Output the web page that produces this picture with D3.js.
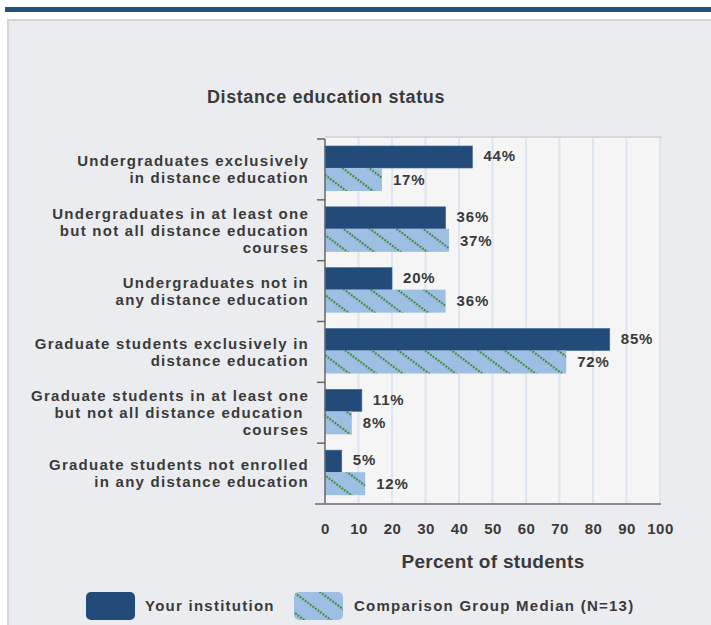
<!DOCTYPE html>
<html>
<head>
<meta charset="utf-8">
<script src="https://cdn.jsdelivr.net/npm/d3@7"></script>
<style>
  html, body { margin: 0; padding: 0; background: #fff; }
  svg { display: block; font-family: "Liberation Sans", Arial, sans-serif; }
</style>
</head>
<body>
<svg id="chart" width="711" height="625"></svg>
<script>
// ---- data ----
const categories = [
  ["Undergraduates exclusively", "in distance education"],
  ["Undergraduates in at least one", "but not all distance education", "courses"],
  ["Undergraduates not in", "any distance education"],
  ["Graduate students exclusively in", "distance education"],
  ["Graduate students in at least one", "but not all distance education ", "courses"],
  ["Graduate students not enrolled", "in any distance education"]
];
const institution = [44, 36, 20, 85, 11, 5];
const comparison = [17, 37, 36, 72, 8, 12];
const xTicks = [0, 10, 20, 30, 40, 50, 60, 70, 80, 90, 100];
const seriesNames = ["Your institution", "Comparison Group Median (N=13)"];

// ---- layout ----
const plot = { left: 325, right: 660, top: 139, bottom: 504 };
const DARK = "#234b79";
const LIGHT = "#9ebfe3";
const TEXT = "#3a3a3a";
const SPACING = "1.25px";

const svg = d3.select("#chart");

// pattern for comparison bars
const defs = svg.append("defs");
const pat = defs.append("pattern")
  .attr("id", "hatch")
  .attr("patternUnits", "userSpaceOnUse")
  .attr("width", 3.2).attr("height", 16)
  .attr("patternTransform", "rotate(37)");
pat.append("rect").attr("width", 3.2).attr("height", 16).attr("fill", LIGHT);
pat.append("rect").attr("x", 0).attr("y", 7).attr("width", 1.9).attr("height", 2.2).attr("fill", "#3f8a3c");

// page frame
svg.append("rect").attr("x", 0).attr("y", 0).attr("width", 711).attr("height", 625).attr("fill", "#fff");
svg.append("rect").attr("x", 5).attr("y", 7).attr("width", 706).attr("height", 5).attr("fill", "#25507a");
svg.append("rect").attr("x", 7).attr("y", 19).attr("width", 704).attr("height", 606).attr("fill", "#ebecf0");
svg.append("rect").attr("x", 7).attr("y", 19).attr("width", 704).attr("height", 2).attr("fill", "#d6d6d6");
svg.append("rect").attr("x", 7).attr("y", 19).attr("width", 2).attr("height", 606).attr("fill", "#d6d6d6");

// title
svg.append("text")
  .attr("x", 326).attr("y", 103)
  .attr("text-anchor", "middle")
  .attr("font-size", 18).attr("font-weight", "bold").attr("fill", TEXT)
  .style("letter-spacing", "0.6px")
  .text("Distance education status");

// scales
const x = d3.scaleLinear().domain([0, 100]).range([plot.left, plot.right]);
const y = d3.scaleBand().domain(d3.range(categories.length)).range([plot.top, plot.bottom]);

// plot background
svg.append("rect")
  .attr("x", plot.left).attr("y", plot.top - 2)
  .attr("width", plot.right - plot.left).attr("height", plot.bottom - plot.top + 2)
  .attr("fill", "#f5f5f5");
svg.append("rect")
  .attr("x", plot.left).attr("y", plot.top - 3)
  .attr("width", plot.right - plot.left + 2).attr("height", 2)
  .attr("fill", "#d8d8d8");

// grid lines
svg.append("g").selectAll("line")
  .data(xTicks.slice(1))
  .join("line")
  .attr("x1", d => x(d)).attr("x2", d => x(d))
  .attr("y1", plot.top - 1).attr("y2", plot.bottom)
  .attr("stroke", "#dde5f0").attr("stroke-width", 2);

// bars
const barTop = 7, barH1 = 22, barH2 = 23;
const bars = svg.append("g");
bars.selectAll("rect.inst")
  .data(institution)
  .join("rect")
  .attr("class", "inst")
  .attr("x", x(0)).attr("y", (d, i) => y(i) + barTop)
  .attr("width", d => x(d) - x(0)).attr("height", barH1)
  .attr("fill", DARK).attr("stroke", "#3e6492").attr("stroke-width", 0.6);
bars.selectAll("rect.comp")
  .data(comparison)
  .join("rect")
  .attr("class", "comp")
  .attr("x", x(0)).attr("y", (d, i) => y(i) + barTop + barH1)
  .attr("width", d => x(d) - x(0)).attr("height", barH2)
  .attr("fill", "url(#hatch)");

// value labels
const labels = svg.append("g")
  .attr("font-size", 15).attr("font-weight", "bold").attr("fill", TEXT)
  .style("letter-spacing", "0.8px");
labels.selectAll("text.inst")
  .data(institution)
  .join("text")
  .attr("x", d => x(d) + 11).attr("y", (d, i) => y(i) + barTop + barH1 / 2 - 1)
  .attr("dy", "0.35em")
  .text(d => d + "%");
labels.selectAll("text.comp")
  .data(comparison)
  .join("text")
  .attr("x", d => x(d) + 11).attr("y", (d, i) => y(i) + barTop + barH1 + barH2 / 2)
  .attr("dy", "0.35em")
  .text(d => d + "%");

// left axis with category boundary ticks
const boundaries = d3.range(categories.length + 1).map(i => plot.top + i * y.step());
svg.append("line")
  .attr("x1", plot.left).attr("x2", plot.left)
  .attr("y1", plot.top).attr("y2", plot.bottom + 1)
  .attr("stroke", "#666").attr("stroke-width", 1.5);
svg.append("g").selectAll("line")
  .data(boundaries)
  .join("line")
  .attr("x1", plot.left - 8).attr("x2", plot.left)
  .attr("y1", d => d).attr("y2", d => d)
  .attr("stroke", "#666").attr("stroke-width", 1.5);

// category labels
const lineH = 17;
const catG = svg.append("g")
  .attr("font-size", 15).attr("font-weight", "bold").attr("fill", TEXT)
  .attr("text-anchor", "end")
  .style("letter-spacing", SPACING);
categories.forEach((lines, i) => {
  const cy = y(i) + y.bandwidth() / 2;
  const t = catG.append("text").attr("xml:space", "preserve");
  lines.forEach((ln, j) => {
    t.append("tspan")
      .attr("x", 309)
      .attr("y", cy + (j - (lines.length - 1) / 2) * lineH)
      .attr("dy", "0.35em")
      .text(ln);
  });
});

// bottom axis
const xAxis = d3.axisBottom(x).tickValues(xTicks).tickSize(0).tickPadding(19);
const axG = svg.append("g")
  .attr("transform", `translate(0,${plot.bottom})`)
  .call(xAxis);
axG.select(".domain").remove();
axG.selectAll("text")
  .attr("font-family", "Liberation Sans, Arial, sans-serif")
  .attr("font-size", 15).attr("font-weight", "bold").attr("fill", TEXT)
  .style("letter-spacing", "0.5px");
svg.append("line")
  .attr("x1", plot.left - 10).attr("x2", plot.right + 1)
  .attr("y1", plot.bottom).attr("y2", plot.bottom)
  .attr("stroke", "#8a8a8a").attr("stroke-width", 2);

// axis title
svg.append("text")
  .attr("x", 493).attr("y", 568)
  .attr("text-anchor", "middle")
  .attr("font-size", 19).attr("font-weight", "bold").attr("fill", TEXT)
  .style("letter-spacing", "0.3px")
  .text("Percent of students");

// legend
const legend = svg.append("g").attr("font-size", 15).attr("font-weight", "bold").attr("fill", TEXT)
  .style("letter-spacing", SPACING);
legend.append("rect")
  .attr("x", 86).attr("y", 592).attr("width", 49).attr("height", 28).attr("rx", 5)
  .attr("fill", DARK);
legend.append("text").attr("x", 145).attr("y", 606).attr("dy", "0.35em").text(seriesNames[0]);
legend.append("rect")
  .attr("x", 294).attr("y", 592).attr("width", 49).attr("height", 28).attr("rx", 5)
  .attr("fill", "url(#hatch)");
legend.append("text").attr("x", 354).attr("y", 606).attr("dy", "0.35em").text(seriesNames[1]);
</script>
</body>
</html>
